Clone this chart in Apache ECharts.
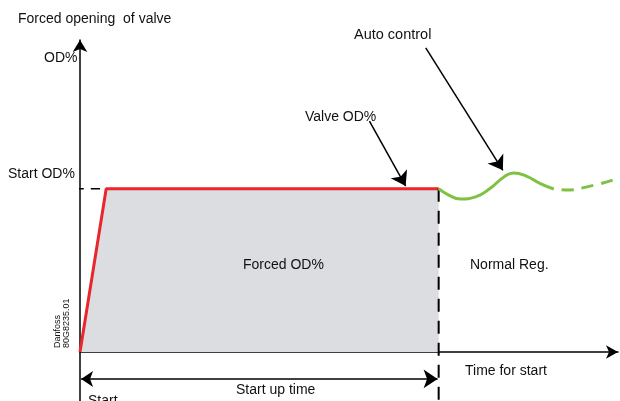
<!DOCTYPE html>
<html>
<head>
<meta charset="utf-8">
<script src="https://cdn.jsdelivr.net/npm/echarts@6/dist/echarts.min.js"></script>
<style>
  html, body { margin: 0; padding: 0; background: #fff; }
  #c { width: 620px; height: 401px; }
</style>
</head>
<body>
<div id="c"></div>
<script>
// time axis: 0 = start, 100 = end of start up time; OD axis: 100 = Start OD%
const forcedX = [0, 7.3, 100]
const forcedY = [0, 100, 100]
const autoX = [100, 102.8, 106.1, 110.3, 114.5, 118.2, 121, 124.3, 128.5, 132.1]
const autoY = [100, 96.1, 93.7, 95, 100.4, 107.2, 109.6, 107.8, 102.9, 99.8]
const tailX = [132.1, 135.4, 142.5, 148.6]
const tailY = [99.8, 99.2, 101.7, 105.3]
const startTickX = [-3.4, 5.6]
const startUpY = -16.5
const endDashY = [100, -30]
const valvePtr = [[80.7, 141.4], [90.8, 101.6]]
const autoPtr = [[96.4, 186.2], [117.9, 111.2]]

const zip = (xs, ys) => xs.map((x, i) => [x, ys[i]])
const FONT = 'Liberation Sans, Arial, sans-serif'
const txt = (text, x, y, extra) => ({
  type: 'text', x, y, z: 100,
  style: { text, fill: '#111', font: '14px ' + FONT, textVerticalAlign: 'middle', ...extra },
})

const chart = echarts.init(document.getElementById('c'), null, { renderer: 'canvas' })
chart.setOption({
  animation: false,
  grid: { left: 80, right: 2, top: 40, bottom: 0 },
  xAxis: {
    type: 'value', min: 0, max: 150,
    axisLine: { onZero: true, lineStyle: { color: '#000', width: 1.5 }, symbol: ['none', 'arrow'], symbolSize: [10, 12] },
    axisTick: { show: false }, axisLabel: { show: false }, splitLine: { show: false },
  },
  yAxis: {
    type: 'value', min: -30, max: 191,
    axisLine: { show: true, onZero: true, lineStyle: { color: '#000', width: 1.5 }, symbol: ['none', 'arrow'], symbolSize: [11, 12] },
    axisTick: { show: false }, axisLabel: { show: false }, splitLine: { show: false },
  },
  series: [
    {
      type: 'line', data: zip(forcedX, forcedY), symbol: 'none',
      lineStyle: { color: '#e8262c', width: 3 },
      areaStyle: { color: '#dcdde0', opacity: 1 }, z: 3,
    },
    {
      type: 'line', data: [[100, endDashY[0]], [100, endDashY[1]]], symbol: 'none', clip: false,
      lineStyle: { color: '#000', width: 2, type: [13, 9] }, z: 4,
    },
    {
      type: 'line', data: startTickX.map((x) => [x, 100]), symbol: 'none', clip: false,
      lineStyle: { color: '#000', width: 1.5, type: [16, 7] }, z: 2,
    },
    {
      type: 'line', data: zip(autoX, autoY), symbol: 'none', smooth: 0.5,
      lineStyle: { color: '#7fc241', width: 3 }, z: 5,
    },
    {
      type: 'line', data: zip(tailX, tailY), symbol: 'none', smooth: 0.5,
      lineStyle: { color: '#7fc241', width: 3, type: [12, 8], dashOffset: 12 }, z: 5,
    },
    {
      type: 'lines', coordinateSystem: 'cartesian2d', z: 6,
      symbol: ['arrow', 'arrow'], symbolSize: [12, 14],
      lineStyle: { color: '#000', width: 1.5, opacity: 1 },
      data: [{ coords: [[0.3, startUpY], [99.7, startUpY]] }],
    },
    {
      type: 'lines', coordinateSystem: 'cartesian2d', z: 6,
      symbol: ['none', 'arrow'], symbolSize: 14,
      lineStyle: { color: '#000', width: 1.5, opacity: 1 },
      data: [{ coords: valvePtr }, { coords: autoPtr }],
    },
  ],
  graphic: [
    txt('Forced opening  of valve', 18, 19),
    txt('OD%', 44, 58),
    txt('Start OD%', 8, 174),
    txt('Valve OD%', 305, 117),
    txt('Auto control', 354, 35, { font: '14.5px ' + FONT }),
    txt('Forced OD%', 243, 265),
    txt('Normal Reg.', 470, 265),
    txt('Time for start', 465, 371),
    txt('Start up time', 236, 390),
    txt('Start', 88, 401),
    {
      type: 'text', x: 53, y: 348, rotation: Math.PI / 2, z: 100,
      style: { text: 'Danfoss\n80G8235.01', fill: '#111', font: '9px ' + FONT, lineHeight: 9, textVerticalAlign: 'top' },
    },
  ],
})
</script>
</body>
</html>
